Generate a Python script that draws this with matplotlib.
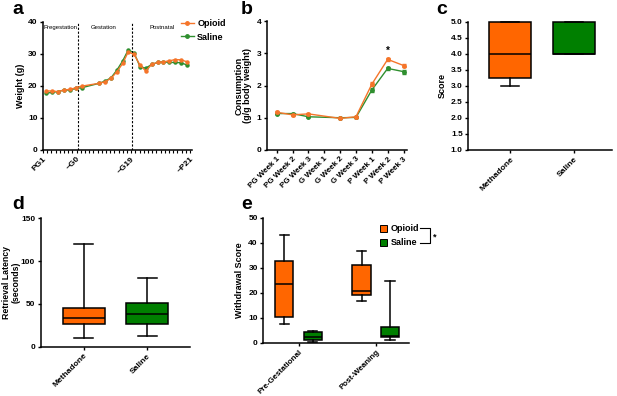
import matplotlib
matplotlib.use("Agg")  # headless

import matplotlib.pyplot as plt
import numpy as np
from matplotlib.lines import Line2D
from matplotlib.patches import Rectangle

plt.rcParams["font.family"] = ["Liberation Sans", "DejaVu Sans"]
plt.rcParams["font.weight"] = "bold"
plt.rcParams["axes.labelweight"] = "bold"
plt.rcParams["axes.linewidth"] = 1.1
plt.rcParams["xtick.major.width"] = 1.0
plt.rcParams["ytick.major.width"] = 1.0
plt.rcParams["xtick.major.size"] = 2.5
plt.rcParams["ytick.major.size"] = 2.5
plt.rcParams["xtick.major.pad"] = 1.5
plt.rcParams["ytick.major.pad"] = 1.5
plt.rcParams["xtick.labelsize"] = 6
plt.rcParams["ytick.labelsize"] = 6

W, H = 617, 396

COLOR_OPIOID_LINE = "#F5752A"
COLOR_SALINE_LINE = "#2F8F2F"
COLOR_OPIOID_BOX = "#FF6600"
COLOR_SALINE_BOX = "#007F00"

# --- panel a: body weight ---
weight_x = [0.8, 2.2, 3.6, 5.0, 6.4, 7.8, 9.2, 13.4, 14.8, 16.2, 17.6, 19.0,
            20.3, 21.7, 23.1, 24.5, 25.9, 27.3, 28.7, 30.1, 31.5, 32.9, 34.3]
weight_opioid = [18.4, 18.4, 18.2, 18.7, 18.9, 19.4, 19.9, 20.8, 21.3, 22.3, 24.4, 27.0,
                 30.6, 29.8, 26.5, 24.6, 26.7, 27.3, 27.5, 27.8, 28.2, 28.1, 27.5]
weight_saline = [17.7, 18.0, 18.2, 18.7, 18.7, 19.2, 19.4, 20.8, 21.5, 22.5, 24.9, 27.8,
                 31.2, 30.3, 26.0, 25.5, 26.7, 27.3, 27.5, 27.3, 27.3, 27.2, 26.5]
day_tick_labels = {0: "PG1", 8: "~G0", 21: "~G19", 35: "~P21"}
phase_lines = [8.4, 21.1]
phase_names = ["Pregestation", "Gestation", "Postnatal"]
phase_centers = [4.2, 14.5, 28.3]

# --- panel b: consumption ---
weeks = ["PG Week 1", "PG Week 2", "PG Week 3", "G Week 1", "G Week 2",
         "G Week 3", "P Week 1", "P Week 2", "P Week 3"]
cons_opioid = [1.17, 1.09, 1.12, np.nan, 0.98, 1.03, 2.04, 2.81, 2.62]
cons_opioid_err = [0.03, 0.03, 0.03, np.nan, 0.02, 0.03, 0.07, 0.05, 0.06]
cons_saline = [1.13, 1.13, 1.03, np.nan, 1.00, 1.01, 1.86, 2.53, 2.43]
cons_saline_err = [0.02, 0.03, 0.02, np.nan, 0.02, 0.02, 0.05, 0.05, 0.06]
sig_week = "P Week 2"

# --- panel c: score ---
groups_cd = ["Methadone", "Saline"]
score_stats = [
    dict(whislo=3.0, q1=3.25, med=4.0, q3=5.0, whishi=5.0),
    dict(whislo=4.0, q1=4.0, med=4.0, q3=5.0, whishi=5.0),
]

# --- panel d: retrieval latency ---
latency_stats = [
    dict(whislo=10, q1=26, med=33, q3=45, whishi=120),
    dict(whislo=12, q1=26, med=38, q3=51, whishi=80),
]

# --- panel e: withdrawal score ---
periods = ["Pre-Gestational", "Post-Weaning"]
withdrawal_opioid = [
    dict(whislo=7.3, q1=10.4, med=23.4, q3=32.7, whishi=43.1),
    dict(whislo=16.7, q1=19.0, med=20.7, q3=31.1, whishi=36.7),
]
withdrawal_saline = [
    dict(whislo=0.4, q1=1.1, med=2.4, q3=4.1, whishi=4.8),
    dict(whislo=1.2, q1=2.1, med=2.8, q3=6.1, whishi=24.8),
]


def px_rect(left, top, right, bottom):
    return [left / W, 1 - bottom / H, (right - left) / W, (bottom - top) / H]


def px(x, y):
    return x / W, 1 - y / H


def style(ax):
    ax.spines["top"].set_visible(False)
    ax.spines["right"].set_visible(False)


def rotated_labels(ax, labels, size=6):
    ax.set_xticklabels(labels, rotation=45, ha="right", va="top",
                       rotation_mode="anchor", fontsize=size)


def boxes(ax, stats, positions, width, color, capw):
    ax.bxp(stats, positions=positions, widths=width, capwidths=capw,
           showfliers=False, patch_artist=True,
           boxprops=dict(facecolor=color, edgecolor="black", linewidth=1.1),
           medianprops=dict(color="black", linewidth=1.1),
           whiskerprops=dict(color="black", linewidth=1.1),
           capprops=dict(color="black", linewidth=1.1),
           manage_ticks=False)


fig = plt.figure(figsize=(W / 100, H / 100), dpi=100)

# a
ax = fig.add_axes(px_rect(43, 21.7, 192, 150))
style(ax)
ax.plot(weight_x, weight_opioid, color=COLOR_OPIOID_LINE, marker="o", markersize=2.2, linewidth=1.0, zorder=3)
ax.plot(weight_x, weight_saline, color=COLOR_SALINE_LINE, marker="o", markersize=2.2, linewidth=1.0, zorder=2)
for xl in phase_lines:
    ax.axvline(xl, color="black", linestyle=(0, (2, 1.5)), linewidth=0.8)
for name, xc in zip(phase_names, phase_centers):
    ax.text(xc, 38.3, name, fontsize=4.3, fontweight="normal", ha="center", va="center")
ax.set_xlim(0, 35.5)
ax.set_ylim(0, 40)
ax.set_yticks([0, 10, 20, 30, 40])
ax.set_xticks(range(36))
rotated_labels(ax, [day_tick_labels.get(i, "") for i in range(36)])
ax.tick_params(axis="x", length=2.5, width=0.8)
ax.set_ylabel("Weight (g)", fontsize=6.5, labelpad=2)
fig.legend([Line2D([], [], color=COLOR_OPIOID_LINE, marker="o", markersize=2.5, linewidth=1.0),
            Line2D([], [], color=COLOR_SALINE_LINE, marker="o", markersize=2.5, linewidth=1.0)],
           ["Opioid", "Saline"], loc="upper left", bbox_to_anchor=px(181, 19),
           frameon=False, fontsize=6.5, handlelength=1.4, handletextpad=0.4,
           labelspacing=0.5, borderaxespad=0, borderpad=0)

# b
ax = fig.add_axes(px_rect(266.7, 21, 406.7, 150))
style(ax)
xb = np.arange(len(weeks))
for vals, errs, col, z in [(cons_opioid, cons_opioid_err, COLOR_OPIOID_LINE, 3),
                           (cons_saline, cons_saline_err, COLOR_SALINE_LINE, 2)]:
    v = np.array(vals)
    e = np.array(errs)
    ok = ~np.isnan(v)
    ax.errorbar(xb[ok], v[ok], yerr=e[ok], color=col, marker="o", markersize=2.5,
                linewidth=1.0, elinewidth=0.6, capsize=1.5, zorder=z)
ax.text(weeks.index(sig_week), 2.93, "*", ha="center", va="bottom", fontsize=7)
ax.set_xlim(-0.63, 8.2)
ax.set_ylim(0, 4)
ax.set_yticks([0, 1, 2, 3, 4])
ax.set_xticks(xb)
rotated_labels(ax, weeks, size=5.8)
ax.set_ylabel("Consumption\n(g/g body weight)", fontsize=6.5, labelpad=3, linespacing=1.0)

# c
ax = fig.add_axes(px_rect(468.3, 21.7, 612, 150))
style(ax)
boxes(ax, [score_stats[0]], [1], 0.66, COLOR_OPIOID_BOX, 0.28)
boxes(ax, [score_stats[1]], [2], 0.66, COLOR_SALINE_BOX, 0.28)
for art in ax.patches + ax.lines:
    art.set_clip_on(False)
ax.set_xlim(0.34, 2.6)
ax.set_ylim(1.0, 5.0)
ax.set_yticks(np.arange(1.0, 5.01, 0.5))
ax.set_yticklabels([f"{t:.1f}" for t in np.arange(1.0, 5.01, 0.5)])
ax.set_xticks([1, 2])
rotated_labels(ax, groups_cd)
ax.set_ylabel("Score", fontsize=6.5, labelpad=3)

# d
ax = fig.add_axes(px_rect(40.7, 218.3, 190, 346.7))
style(ax)
boxes(ax, [latency_stats[0]], [1], 0.66, COLOR_OPIOID_BOX, 0.3)
boxes(ax, [latency_stats[1]], [2], 0.66, COLOR_SALINE_BOX, 0.3)
ax.set_xlim(0.32, 2.67)
ax.set_ylim(0, 150)
ax.set_yticks([0, 50, 100, 150])
ax.set_xticks([1, 2])
rotated_labels(ax, groups_cd)
ax.set_ylabel("Retrieval Latency\n(seconds)", fontsize=6.3, labelpad=0.5, linespacing=1.0)

# e
ax = fig.add_axes(px_rect(263.3, 217.7, 409.3, 342.7))
style(ax)
pe = np.arange(1, len(periods) + 1)
boxes(ax, withdrawal_opioid, list(pe - 0.184), 0.237, COLOR_OPIOID_BOX, 0.12)
boxes(ax, withdrawal_saline, list(pe + 0.184), 0.237, COLOR_SALINE_BOX, 0.12)
ax.set_xlim(0.544, 2.435)
ax.set_ylim(0, 50)
ax.set_yticks([0, 10, 20, 30, 40, 50])
ax.set_xticks(pe)
rotated_labels(ax, periods, size=5.8)
ax.set_ylabel("Withdrawal Score", fontsize=6.5, labelpad=3)

# legend for e with significance bracket
for (label, col), yc in zip([("Opioid", COLOR_OPIOID_BOX), ("Saline", COLOR_SALINE_BOX)], [228.3, 242.7]):
    x0, y0 = px(380, yc + 3.3)
    fig.add_artist(Rectangle((x0, y0), 6.6 / W, 6.6 / H, transform=fig.transFigure,
                             facecolor=col, edgecolor="black", linewidth=0.7))
    fig.text(*px(390.5, yc), label, fontsize=6.5, ha="left", va="center")
bx = [px(420, 228.3), px(430, 228.3), px(430, 242.7), px(420, 242.7)]
fig.add_artist(Line2D([p[0] for p in bx], [p[1] for p in bx], transform=fig.transFigure,
                      color="black", linewidth=0.8))
fig.text(*px(432.5, 237), "*", fontsize=6.5, ha="left", va="center")

# panel letters
for letter, (lx, ly) in zip("abcde", [(12, 14), (241, 14), (436, 14), (12, 209), (241, 209)]):
    fig.text(*px(lx, ly), letter, fontsize=14, fontweight="bold", ha="left", va="baseline")

fig.savefig("out.png", dpi=100)
